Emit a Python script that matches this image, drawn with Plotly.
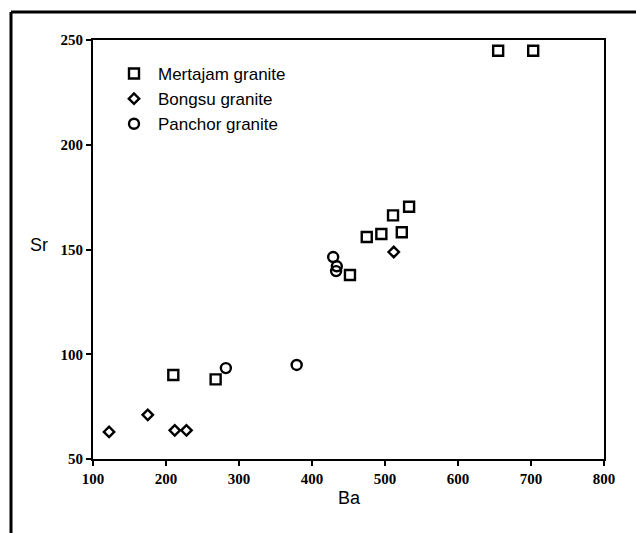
import plotly.graph_objects as go

# Ba (ppm) and Sr (ppm) for each granite suite
mertajam_ba = [210, 268, 452, 475, 495, 511, 523, 533, 655, 703]
mertajam_sr = [90.1, 88.0, 137.8, 156.0, 157.4, 166.3, 158.2, 170.4, 244.9, 244.9]

bongsu_ba = [122, 175, 212, 228, 512]
bongsu_sr = [62.9, 71.1, 63.7, 63.7, 148.8]

panchor_ba = [282, 379, 429, 434, 433]
panchor_sr = [93.4, 94.9, 146.4, 142.0, 139.7]

x_ticks = [100, 200, 300, 400, 500, 600, 700, 800]
y_ticks = [50, 100, 150, 200, 250]

# plot-area geometry in pixels
W, H = 636, 533
L, R, T, B = 93, 32, 40, 74
pw, ph = W - L - R, H - T - B

fig = go.Figure()

fig.add_trace(go.Scatter(
    x=mertajam_ba, y=mertajam_sr, mode="markers", name="Mertajam granite",
    marker=dict(symbol="square-open", size=10, color="black", line=dict(width=2.4)),
))
fig.add_trace(go.Scatter(
    x=bongsu_ba, y=bongsu_sr, mode="markers", name="Bongsu granite",
    marker=dict(symbol="diamond-open", size=8, color="black", line=dict(width=2.4)),
))
fig.add_trace(go.Scatter(
    x=panchor_ba, y=panchor_sr, mode="markers", name="Panchor granite",
    marker=dict(symbol="circle-open", size=10, color="black", line=dict(width=2.4)),
))

tick_font = dict(family="Liberation Serif", size=15, color="black", weight="bold")
axis_common = dict(
    showgrid=False, zeroline=False, showline=True, linecolor="black", linewidth=2,
    mirror=True, ticks="outside", ticklen=5, tickwidth=1.5, tickcolor="black",
    tickfont=tick_font,
)

fig.update_xaxes(range=[100, 800], tickvals=x_ticks, ticktext=[str(v) for v in x_ticks],
                 **axis_common)
fig.update_yaxes(range=[50, 250], tickvals=y_ticks, ticktext=[str(v) for v in y_ticks],
                 **axis_common)

# axis titles
title_font = dict(family="Liberation Sans", size=18, color="black")
fig.add_annotation(text="Ba", xref="paper", yref="paper", x=(349 - L) / pw,
                   y=-(498 - (T + ph)) / ph, xanchor="center", yanchor="middle",
                   showarrow=False, font=title_font)
fig.add_annotation(text="Sr", xref="paper", yref="paper", x=(39 - L) / pw,
                   y=1 - (245 - T) / ph, xanchor="center", yanchor="middle",
                   showarrow=False, font=title_font)

# outer frame: left and top edges
fx0 = (11 - L) / pw
fy_top = 1 + (T - 12) / ph
fy_bot = -(H - (T + ph)) / ph
fx_right = 1 + R / pw
fig.add_shape(type="line", xref="paper", yref="paper", x0=fx0, x1=fx0, y0=fy_bot, y1=fy_top,
              line=dict(color="black", width=3))
fig.add_shape(type="line", xref="paper", yref="paper", x0=fx0, x1=fx_right, y0=fy_top, y1=fy_top,
              line=dict(color="black", width=3))

fig.update_layout(
    width=W, height=H,
    margin=dict(l=L, r=R, t=T, b=B, pad=0),
    plot_bgcolor="white", paper_bgcolor="white",
    showlegend=True,
    legend=dict(
        x=(110 - L) / pw, y=1 - (56 - T) / ph, xanchor="left", yanchor="top",
        bgcolor="rgba(0,0,0,0)", borderwidth=0,
        font=dict(family="Liberation Sans", size=17, color="black"),
        tracegroupgap=0, itemsizing="trace", itemwidth=38,
    ),
)

fig.write_html("out.html")
